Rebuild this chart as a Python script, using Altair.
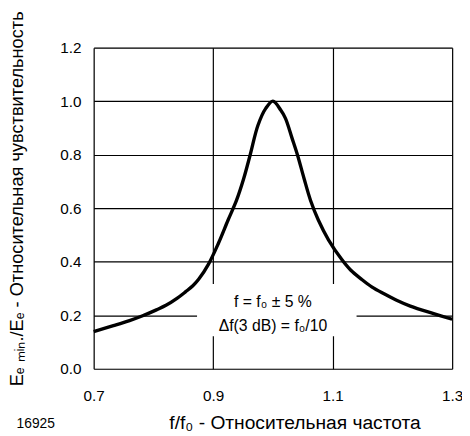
import altair as alt
import pandas as pd

# Curve values
freq = [0.700, 0.733, 0.760, 0.782, 0.805, 0.821, 0.840, 0.854, 0.866, 0.876, 0.892,
        0.909, 0.925, 0.939, 0.951, 0.962, 0.975, 0.988, 1.000, 1.013, 1.021, 1.032,
        1.041, 1.052, 1.063, 1.076, 1.093, 1.115, 1.130, 1.148, 1.166, 1.186, 1.207,
        1.230, 1.269, 1.300]
sens = [0.139, 0.161, 0.180, 0.198, 0.220, 0.237, 0.264, 0.288, 0.310, 0.335, 0.390,
        0.470, 0.556, 0.629, 0.710, 0.800, 0.910, 0.973, 1.000, 0.967, 0.936, 0.862,
        0.800, 0.712, 0.629, 0.556, 0.482, 0.409, 0.369, 0.335, 0.305, 0.280, 0.256,
        0.234, 0.206, 0.185]

x_ticks = [0.7, 0.9, 1.1, 1.3]
y_ticks = [0.0, 0.2, 0.4, 0.6, 0.8, 1.0, 1.2]

# Annotation box (data coordinates) and its text lines
box_x = [0.873]
box_x2 = [1.140]
box_y = [0.121]
box_y2 = [0.317]
note_text = ["f = f\u2080 \u00b1 5 %", "\u0394f(3 dB) = f\u2080/10"]
note_x = [1.0, 1.0]
note_y = [0.250, 0.160]

fig_id = ["16925"]
fig_id_x = [0.603]
fig_id_y = [-0.205]

FONT = "Liberation Sans"

curve_df = pd.DataFrame({"f": freq, "s": sens})
box_df = pd.DataFrame({"x": box_x, "x2": box_x2, "y": box_y, "y2": box_y2})
note_df = pd.DataFrame({"t": note_text, "x": note_x, "y": note_y})
id_df = pd.DataFrame({"t": fig_id, "x": fig_id_x, "y": fig_id_y})

xscale = alt.Scale(domain=[0.7, 1.3], nice=False, zero=False)
yscale = alt.Scale(domain=[0.0, 1.2], nice=False)

xaxis = alt.Axis(
    values=x_ticks, format=".1f", title="f/f\u2080 - Относительная частота",
    grid=True, gridColor="black", gridWidth=1.2, gridOpacity=1,
    domain=False, ticks=False, labelPadding=20, labelFontSize=15.5,
    labelFont=FONT, labelColor="black", titleFont=FONT, titleFontSize=19.5,
    titleFontWeight="normal", titleColor="black",
    titleX=204, titleY=55, titleBaseline="middle", titleAlign="center",
    labelFlush=False,
)
yaxis = alt.Axis(
    values=y_ticks, format=".1f",
    title="E\u2091 \u2098\u1d62\u2099./E\u2091 - Относительная чувствительность",
    grid=True, gridColor="black", gridWidth=1.2, gridOpacity=1,
    domain=False, ticks=False, labelPadding=13, labelFontSize=15.5,
    labelFont=FONT, labelColor="black", titleFont=FONT, titleFontSize=18.5,
    titleFontWeight="normal", titleColor="black",
    titleX=-72, titleY=153, titleBaseline="alphabetic", titleAlign="center",
    titleAngle=270, labelFlush=False,
)

box = alt.Chart(box_df).mark_rect(color="white").encode(
    x=alt.X("x:Q", scale=xscale, axis=xaxis),
    x2="x2",
    y=alt.Y("y:Q", scale=yscale, axis=yaxis),
    y2="y2",
)

line = alt.Chart(curve_df).mark_line(color="black", strokeWidth=3.4, interpolate="catmull-rom",
                                      strokeJoin="round").encode(
    x=alt.X("f:Q", scale=xscale),
    y=alt.Y("s:Q", scale=yscale),
)

notes = alt.Chart(note_df).mark_text(font=FONT, fontSize=16, color="black", baseline="middle").encode(
    x=alt.X("x:Q", scale=xscale),
    y=alt.Y("y:Q", scale=yscale),
    text="t:N",
)

fid = alt.Chart(id_df).mark_text(font=FONT, fontSize=14, color="black", baseline="middle", clip=False).encode(
    x=alt.X("x:Q", scale=xscale),
    y=alt.Y("y:Q", scale=yscale),
    text="t:N",
)

chart = alt.layer(box, line, notes, fid).properties(
    width=364, height=326,
    autosize=alt.AutoSizeParams(type="none"),
    padding={"left": 87, "top": 37, "right": 10, "bottom": 64},
).configure_view(
    stroke="black", strokeWidth=2.5,
).configure(background="white")

chart.save("out.html", embed_options={"renderer": "svg", "actions": False})
